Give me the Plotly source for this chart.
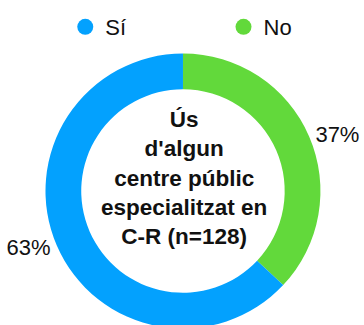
import plotly.graph_objects as go

# Survey answers and their shares (%)
labels = ["Sí", "No"]
values = [63, 37]
colors = ["#03A1FE", "#62D93B"]
center_title = "Ús<br>d'algun<br>centre públic<br>especialitzat en<br>C-R (n=128)"

W, H = 364, 345
FONT = "Liberation Sans, Arial, sans-serif"

fig = go.Figure()

# "No" is drawn first so it runs clockwise from 12 o'clock on the right side
fig.add_trace(go.Pie(
    labels=labels[::-1],
    values=values[::-1],
    hole=0.74,
    sort=False,
    direction="clockwise",
    rotation=0,
    marker=dict(colors=colors[::-1], line=dict(width=0)),
    textinfo="percent",
    texttemplate="%{percent:.0%}",
    textposition="outside",
    outsidetextfont=dict(family=FONT, size=22, color="#111111"),
    hoverinfo="label+percent",
    showlegend=False,
    domain=dict(x=[46 / W, 324 / W], y=[1 - 330 / H, 1 - 52 / H]),
))

# Legend entries with round swatches, one legend box per answer
legend_x = [66, 226]
for i, (lab, col) in enumerate(zip(labels, colors)):
    fig.add_trace(go.Scatter(
        x=[None], y=[None], mode="markers", name=lab,
        marker=dict(symbol="circle", size=18, color=col),
        showlegend=True, hoverinfo="skip",
        legend="legend" if i == 0 else "legend2",
    ))

fig.add_annotation(
    x=186 / W, y=1 - 178 / H, xref="paper", yref="paper",
    text="<b>" + center_title + "</b>", showarrow=False,
    font=dict(family=FONT, size=22.5, color="#111111"),
    align="center", xanchor="center", yanchor="middle",
)

legend_style = dict(
    orientation="h", y=1 - 6 / H, xanchor="left", yanchor="top",
    font=dict(family=FONT, size=22, color="#111111"),
    itemsizing="trace", bgcolor="rgba(0,0,0,0)",
)

fig.update_layout(
    width=W, height=H,
    margin=dict(l=0, r=0, t=0, b=0),
    paper_bgcolor="white", plot_bgcolor="white",
    xaxis=dict(visible=False), yaxis=dict(visible=False),
    legend=dict(x=legend_x[0] / W, **legend_style),
    legend2=dict(x=legend_x[1] / W, **legend_style),
)

fig.write_html("out.html")
